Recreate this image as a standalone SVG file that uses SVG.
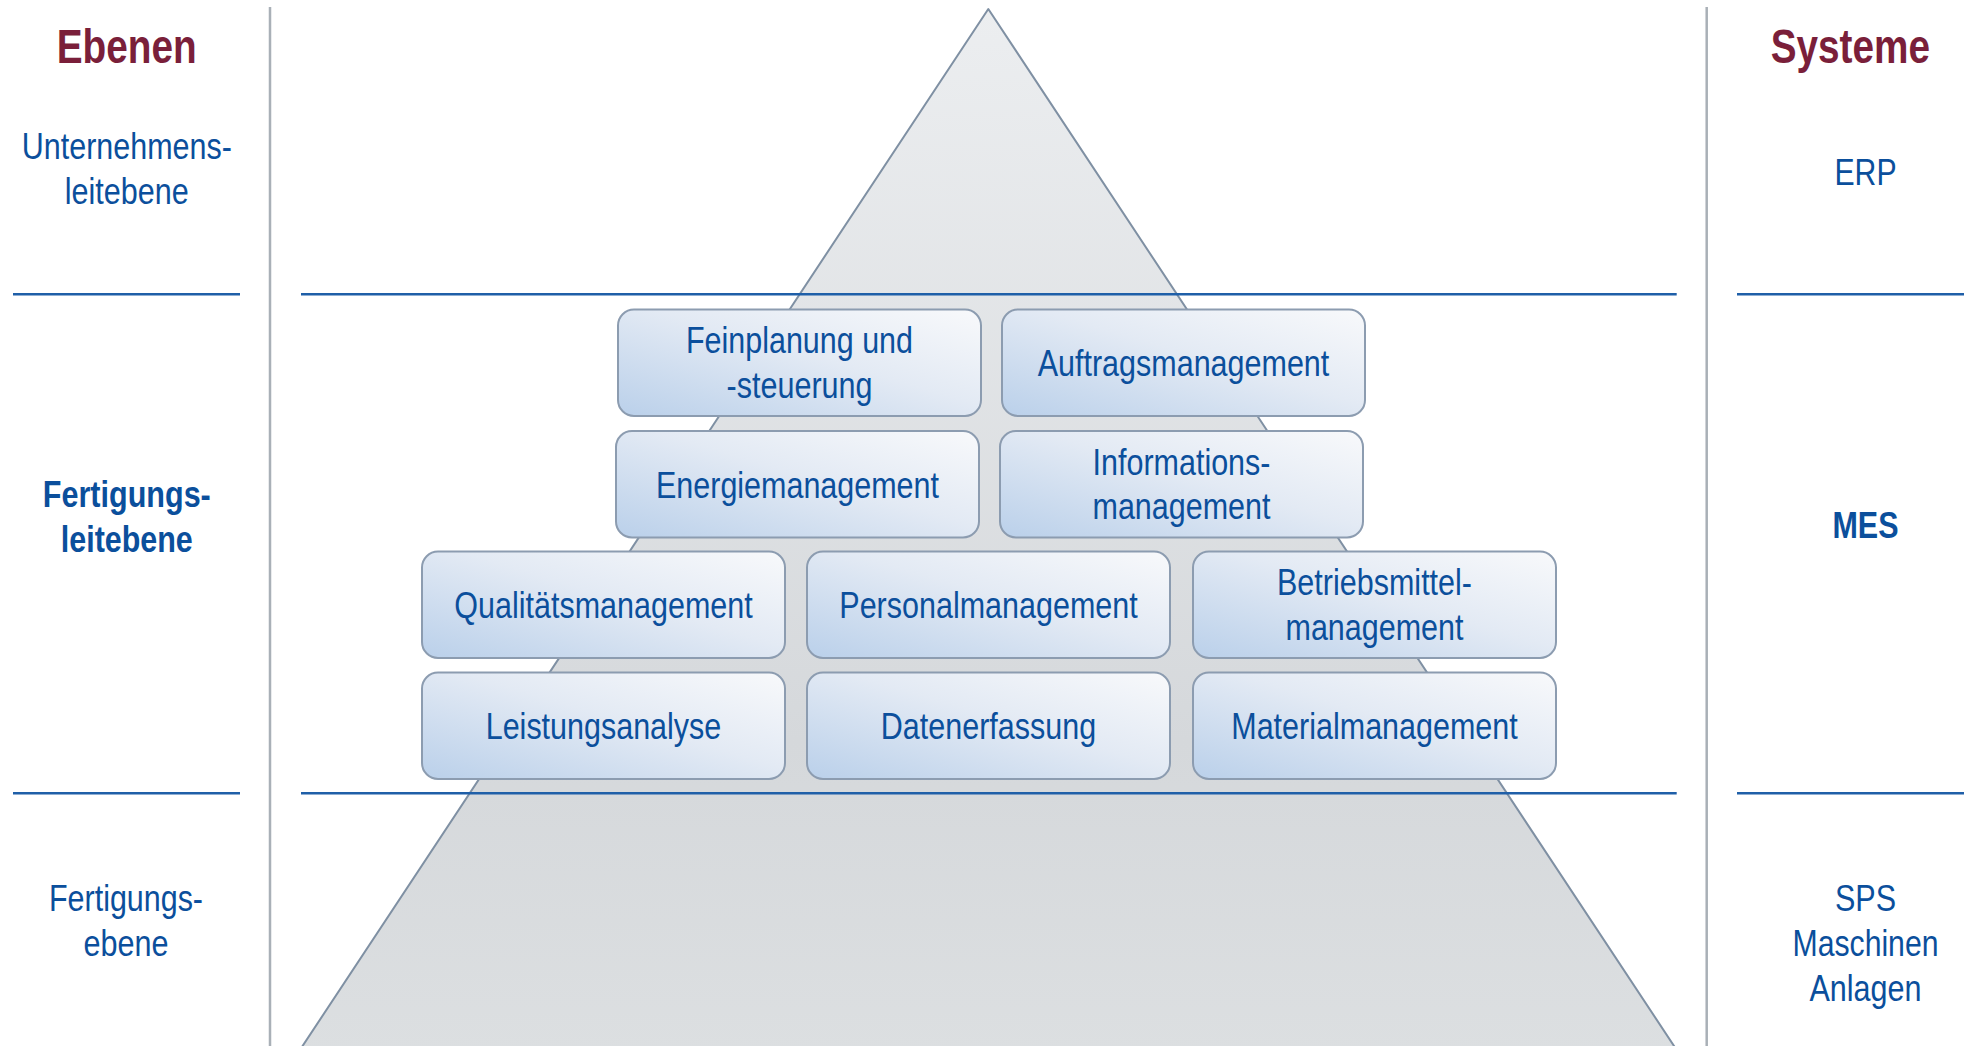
<svg xmlns="http://www.w3.org/2000/svg" width="1964" height="1046" viewBox="0 0 1964 1046">
<defs>
<linearGradient id="pyr" x1="0" y1="0" x2="0" y2="1">
<stop offset="0" stop-color="#eceef0"/>
<stop offset="0.7" stop-color="#d5d8db"/>
<stop offset="1" stop-color="#dcdfe1"/>
</linearGradient>
<linearGradient id="box" x1="0" y1="1" x2="1" y2="0">
<stop offset="0" stop-color="#bad0ea"/>
<stop offset="0.55" stop-color="#e3eaf4"/>
<stop offset="1" stop-color="#f8f9fb"/>
</linearGradient>
<style>
.t{font-family:"Liberation Sans Narrow","Liberation Sans",Arial,sans-serif;font-size:37px;fill:#0b4f9c;text-anchor:middle}
.b{font-weight:bold}
.h{font-family:"Liberation Sans Narrow","Liberation Sans",Arial,sans-serif;font-size:48px;font-weight:bold;fill:#7a1f3a;text-anchor:middle}
.bx{fill:url(#box);stroke:#8c9cb0;stroke-width:2}
.hl{stroke:#1f5fa8;stroke-width:2.5;fill:none}
.vl{stroke:#a9b0b7;stroke-width:2.5;fill:none}
</style>
</defs>
<rect x="0" y="0" width="1964" height="1046" fill="#ffffff"/>
<g id="pyramid">
<path d="M988.3 9 L1680 1055 L296.6 1055 Z" fill="url(#pyr)" stroke="#7f90a3" stroke-width="2" stroke-linejoin="round"/>
</g>
<g id="dividers">
<line class="vl" x1="270" y1="7" x2="270" y2="1046"/>
<line class="vl" x1="1706.7" y1="7" x2="1706.7" y2="1046"/>
<line class="hl" x1="13" y1="294.3" x2="240" y2="294.3"/>
<line class="hl" x1="301" y1="294.3" x2="1676.7" y2="294.3"/>
<line class="hl" x1="1737" y1="294.3" x2="1964" y2="294.3"/>
<line class="hl" x1="13" y1="793.3" x2="240" y2="793.3"/>
<line class="hl" x1="301" y1="793.3" x2="1676.7" y2="793.3"/>
<line class="hl" x1="1737" y1="793.3" x2="1964" y2="793.3"/>
</g>
<g id="labels-left">
<text class="h" x="126.7" y="63" textLength="140" lengthAdjust="spacingAndGlyphs">Ebenen</text>
<text class="t" x="126.8" y="159" textLength="210" lengthAdjust="spacingAndGlyphs">Unternehmens-</text>
<text class="t" x="126.8" y="203.5" textLength="124" lengthAdjust="spacingAndGlyphs">leitebene</text>
<text class="t b" x="126.8" y="506.7" textLength="168" lengthAdjust="spacingAndGlyphs">Fertigungs-</text>
<text class="t b" x="126.8" y="551.7" textLength="132" lengthAdjust="spacingAndGlyphs">leitebene</text>
<text class="t" x="126" y="911" textLength="154" lengthAdjust="spacingAndGlyphs">Fertigungs-</text>
<text class="t" x="126" y="956" textLength="85" lengthAdjust="spacingAndGlyphs">ebene</text>
</g>
<g id="labels-right">
<text class="h" x="1850.3" y="63" textLength="159.3" lengthAdjust="spacingAndGlyphs">Systeme</text>
<text class="t" x="1865.5" y="185" textLength="62" lengthAdjust="spacingAndGlyphs">ERP</text>
<text class="t b" x="1865.5" y="538" textLength="66" lengthAdjust="spacingAndGlyphs">MES</text>
<text class="t" x="1865.5" y="911" textLength="61" lengthAdjust="spacingAndGlyphs">SPS</text>
<text class="t" x="1865.5" y="956" textLength="146" lengthAdjust="spacingAndGlyphs">Maschinen</text>
<text class="t" x="1865.5" y="1001" textLength="112" lengthAdjust="spacingAndGlyphs">Anlagen</text>
</g>
<g id="node-feinplanung">
<rect class="bx" x="618" y="309.5" width="363" height="106.5" rx="16"/>
<text class="t" x="799.5" y="353.25" textLength="227" lengthAdjust="spacingAndGlyphs">Feinplanung und</text>
<text class="t" x="799.5" y="397.75" textLength="146" lengthAdjust="spacingAndGlyphs">-steuerung</text>
</g>
<g id="node-auftragsmanagement">
<rect class="bx" x="1002" y="309.5" width="363" height="106.5" rx="16"/>
<text class="t" x="1183.5" y="376.25" textLength="291.6" lengthAdjust="spacingAndGlyphs">Auftragsmanagement</text>
</g>
<g id="node-energiemanagement">
<rect class="bx" x="616" y="431" width="363" height="106.5" rx="16"/>
<text class="t" x="797.5" y="497.75" textLength="283" lengthAdjust="spacingAndGlyphs">Energiemanagement</text>
</g>
<g id="node-informationsmanagement">
<rect class="bx" x="1000" y="431" width="363" height="106.5" rx="16"/>
<text class="t" x="1181.5" y="474.75" textLength="178" lengthAdjust="spacingAndGlyphs">Informations-</text>
<text class="t" x="1181.5" y="519.25" textLength="178" lengthAdjust="spacingAndGlyphs">management</text>
</g>
<g id="node-qualitaetsmanagement">
<rect class="bx" x="422" y="551.5" width="363" height="106.5" rx="16"/>
<text class="t" x="603.5" y="618.25" textLength="298.4" lengthAdjust="spacingAndGlyphs">Qualitätsmanagement</text>
</g>
<g id="node-personalmanagement">
<rect class="bx" x="807" y="551.5" width="363" height="106.5" rx="16"/>
<text class="t" x="988.5" y="618.25" textLength="298.4" lengthAdjust="spacingAndGlyphs">Personalmanagement</text>
</g>
<g id="node-betriebsmittelmanagement">
<rect class="bx" x="1193" y="551.5" width="363" height="106.5" rx="16"/>
<text class="t" x="1374.5" y="595.25" textLength="195" lengthAdjust="spacingAndGlyphs">Betriebsmittel-</text>
<text class="t" x="1374.5" y="639.75" textLength="178" lengthAdjust="spacingAndGlyphs">management</text>
</g>
<g id="node-leistungsanalyse">
<rect class="bx" x="422" y="672.5" width="363" height="106.5" rx="16"/>
<text class="t" x="603.5" y="739.25" textLength="235.6" lengthAdjust="spacingAndGlyphs">Leistungsanalyse</text>
</g>
<g id="node-datenerfassung">
<rect class="bx" x="807" y="672.5" width="363" height="106.5" rx="16"/>
<text class="t" x="988.5" y="739.25" textLength="215.3" lengthAdjust="spacingAndGlyphs">Datenerfassung</text>
</g>
<g id="node-materialmanagement">
<rect class="bx" x="1193" y="672.5" width="363" height="106.5" rx="16"/>
<text class="t" x="1374.5" y="739.25" textLength="286.5" lengthAdjust="spacingAndGlyphs">Materialmanagement</text>
</g>
</svg>
